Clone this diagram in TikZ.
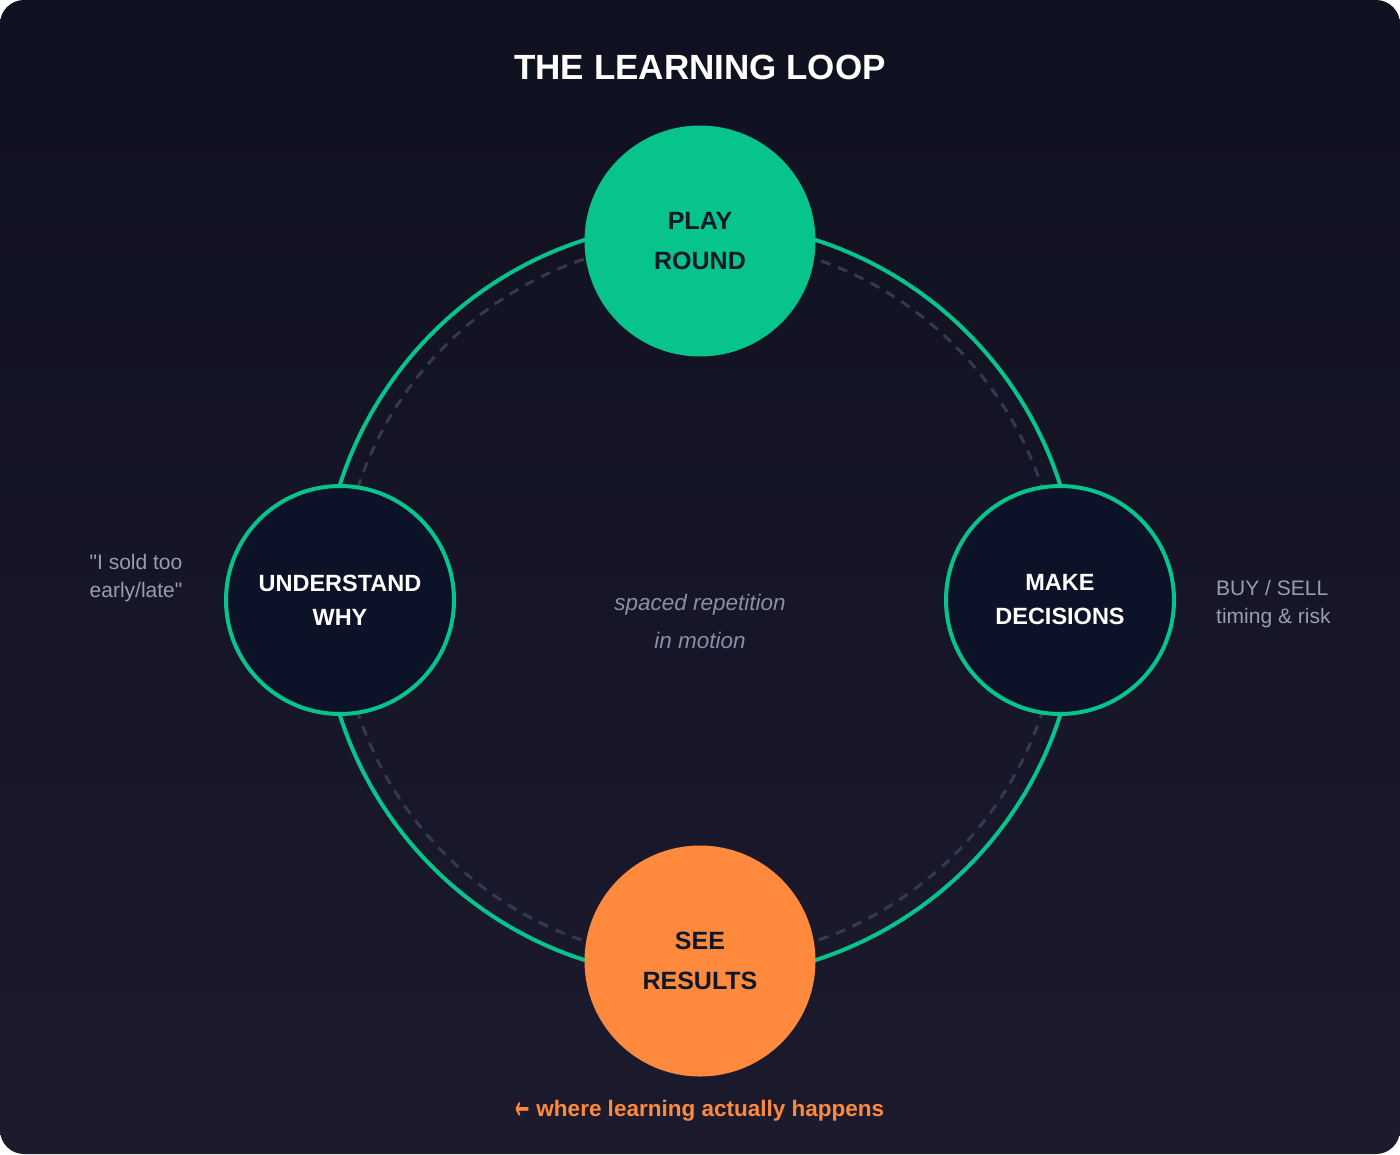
\documentclass[tikz,border=0pt]{standalone}
\usepackage{graphicx}
\usepackage{fontspec}
\setmainfont{Liberation Sans}[Ligatures=TeXOff]
\newfontfamily\arrowfont{DejaVu Sans}
\definecolor{bgtop}{RGB}{15,16,32}
\definecolor{bgbot}{RGB}{28,27,46}
\definecolor{loopgreen}{RGB}{6,196,140}
\definecolor{looporange}{RGB}{255,138,61}
\definecolor{navyfill}{RGB}{12,19,40}
\definecolor{inkdark}{RGB}{14,24,40}
\definecolor{ringgrey}{RGB}{52,57,78}
\definecolor{softgrey}{RGB}{152,158,174}
\definecolor{midgrey}{RGB}{138,143,166}
\begin{document}
\begin{tikzpicture}[x=1pt,y=-1pt,
  stage/.style={circle, minimum size=231pt, inner sep=0pt, align=center,
    font=\bfseries\fontsize{25}{40}\selectfont, text=inkdark},
  ringstage/.style={circle, minimum size=228pt, inner sep=0pt, draw=loopgreen,
    line width=4pt, fill=navyfill, align=center,
    font=\bfseries\fontsize{23.5}{34}\selectfont, text=white},
  sidenote/.style={text=softgrey, font=\fontsize{21}{28}\selectfont, inner sep=0pt},
  ring/.style={loopgreen, line width=4pt},
  dashring/.style={ringgrey, line width=3pt, dash pattern=on 10pt off 8pt}]
  % background
  \fill[white] (0,0) rectangle (1400,1154);
  \shade[top color=bgtop, bottom color=bgbot, rounded corners=24pt] (0,0) rectangle (1400,1154);
  \useasboundingbox (0,0) rectangle (1400,1154);
  \coordinate (c) at (700,600);
  % rings
  \draw[dashring] (c) circle[radius=360pt];
  \draw[ring] (c) circle[radius=378pt];
  % title
  \node[text=white, font=\bfseries\fontsize{35}{42}\selectfont, inner sep=0pt] (title) at (700,67) {THE LEARNING LOOP};
  % stages
  \node[stage, fill=loopgreen] (play) at (700,241) {PLAY\\ROUND};
  \node[ringstage] (decide) at (1060,600) {MAKE\\DECISIONS};
  \node[stage, fill=looporange] (results) at (700,961) {SEE\\RESULTS};
  \node[ringstage] (why) at (340,600) {UNDERSTAND\\WHY};
  % notes
  \node[text=midgrey, font=\itshape\fontsize{22.5}{38}\selectfont, align=center, inner sep=0pt] (center) at (700,621) {spaced repetition\\in motion};
  \node[sidenote, align=center] (quote) at (136,578) {"I sold too\\early/late"};
  \node[sidenote, align=left, anchor=west] (buysell) at (1216,604) {BUY / SELL\\timing \& risk};
  \node[text=looporange, font=\bfseries\fontsize{22.5}{26}\selectfont, inner sep=0pt] (caption) at (700,1111) {{\arrowfont\bfseries\fontsize{19}{20}\selectfont\raisebox{-2.5pt}{\scalebox{0.9}[1.7]{←}}} where learning actually happens};
\end{tikzpicture}
\end{document}
